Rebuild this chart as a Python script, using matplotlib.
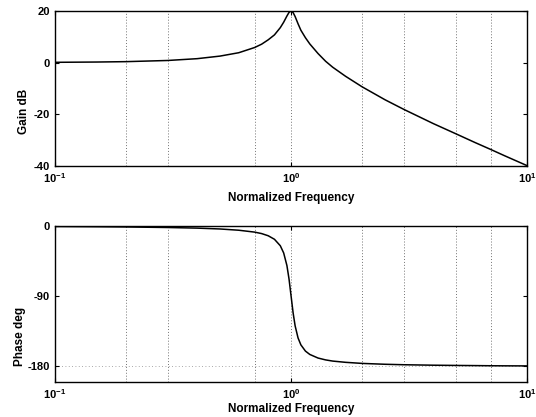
import matplotlib
matplotlib.use("Agg")
import matplotlib.pyplot as plt

# normalized frequency and response
freq = [0.1, 0.15, 0.2, 0.3, 0.4, 0.5, 0.6, 0.7, 0.75, 0.8, 0.85, 0.9, 0.93,
        0.96, 0.98, 1.0, 1.02, 1.04, 1.07, 1.1, 1.15, 1.2, 1.3, 1.4, 1.5,
        1.7, 2.0, 2.5, 3.0, 4.0, 5.0, 6.0, 7.0, 8.0, 10.0]
gain_db = [0.09, 0.2, 0.35, 0.8, 1.5, 2.5, 3.8, 5.8, 7.1, 8.8, 10.7, 13.5, 15.6,
           18.0, 19.4, 20.0, 19.3, 17.8, 15.0, 12.5, 9.6, 7.2, 3.5, 0.5, -1.8,
           -5.3, -9.4, -14.4, -18.1, -23.6, -27.6, -30.9, -33.6, -36.0, -39.9]
phase_deg = [-0.6, -0.9, -1.2, -1.9, -2.7, -3.8, -5.4, -7.8, -9.7, -12.5, -17.0,
             -25.3, -34.5, -50.7, -68.0, -90.0, -111.6, -128.0, -143.5, -152.4,
             -160.4, -164.7, -169.3, -171.7, -173.2, -174.8, -176.2, -177.3,
             -177.9, -178.5, -178.8, -179.0, -179.2, -179.3, -179.4]

grid_x = [0.2, 0.3, 0.7, 1.0, 2.0, 3.0, 5.0, 7.0]

plt.rcParams['font.family'] = ['Liberation Sans', 'DejaVu Sans']
plt.rcParams['font.weight'] = 'bold'
plt.rcParams['font.size'] = 8
plt.rcParams['axes.unicode_minus'] = False

fig = plt.figure(figsize=(5.36, 4.17), dpi=100)
ax1 = fig.add_axes([0.1026, 0.602, 0.881, 0.372])
ax2 = fig.add_axes([0.1026, 0.084, 0.881, 0.374])

for ax in (ax1, ax2):
    ax.set_xscale('log')
    ax.set_xlim(0.1, 10)
    ax.set_xticks([0.1, 1, 10])
    ax.minorticks_off()
    for g in grid_x:
        ax.axvline(g, color='0.45', linestyle=(0, (1, 2)), linewidth=0.7, zorder=0)
    ax.tick_params(direction='in', top=True, right=True, length=3, labelsize=8)
    for s in ax.spines.values():
        s.set_linewidth(1.0)

ax1.plot(freq, gain_db, color='black', linewidth=1.1)
ax1.set_ylim(-40, 20)
ax1.set_yticks([-40, -20, 0, 20])
ax1.set_xlabel('Normalized Frequency', fontweight='bold', fontsize=8.5, labelpad=5)
ax1.set_ylabel('Gain dB', fontweight='bold', fontsize=8.5)
ax1.yaxis.set_label_coords(-0.053, 0.35)

ax2.plot(freq, phase_deg, color='black', linewidth=1.1)
ax2.set_ylim(-200, 0)
ax2.set_yticks([-180, -90, 0])
ax2.axhline(-180, color='0.55', linestyle=(0, (1, 3)), linewidth=0.6, zorder=0)
ax2.set_xlabel('Normalized Frequency', fontweight='bold', fontsize=8.5, labelpad=2)
ax2.set_ylabel('Phase deg', fontweight='bold', fontsize=8.5)
ax2.yaxis.set_label_coords(-0.062, 0.295)

fig.savefig('out.png', dpi=100)
